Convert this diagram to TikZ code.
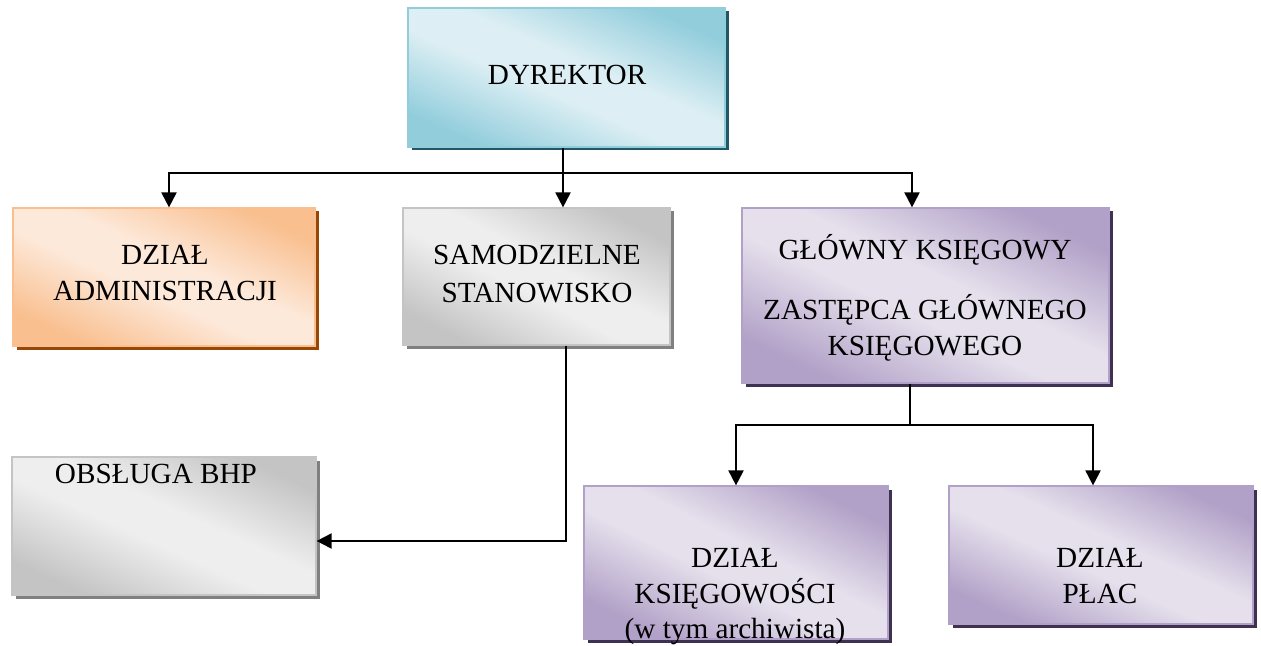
\documentclass[tikz,border=0pt]{standalone}
\usepackage{fontspec}
\setmainfont{Liberation Serif}
\usetikzlibrary{arrows.meta,shadows,calc}
\definecolor{tealD}{HTML}{92CDDC}
\definecolor{tealL}{HTML}{DDEFF4}
\definecolor{tealS}{HTML}{205867}
\definecolor{orD}{HTML}{F9BF8F}
\definecolor{orL}{HTML}{FDE9DA}
\definecolor{orS}{HTML}{974806}
\definecolor{grD}{HTML}{C4C4C4}
\definecolor{grL}{HTML}{EEEEEE}
\definecolor{grS}{HTML}{808080}
\definecolor{puD}{HTML}{B1A0C7}
\definecolor{puL}{HTML}{E5E0EC}
\definecolor{puS}{HTML}{3F3151}
\pgfdeclarehorizontalshading{tealsh}{100bp}{color(0bp)=(tealD); color(25bp)=(tealD); color(45bp)=(tealL); color(55bp)=(tealL); color(75bp)=(tealD); color(100bp)=(tealD)}
\pgfdeclarehorizontalshading{orsh}{100bp}{color(0bp)=(orD); color(25bp)=(orD); color(45bp)=(orL); color(55bp)=(orL); color(75bp)=(orD); color(100bp)=(orD)}
\pgfdeclarehorizontalshading{grsh}{100bp}{color(0bp)=(grD); color(25bp)=(grD); color(45bp)=(grL); color(55bp)=(grL); color(75bp)=(grD); color(100bp)=(grD)}
\pgfdeclarehorizontalshading{push}{100bp}{color(0bp)=(puD); color(25bp)=(puD); color(45bp)=(puL); color(55bp)=(puL); color(75bp)=(puD); color(100bp)=(puD)}
\begin{document}
\begin{tikzpicture}[x=0.5pt,y=-0.5pt,
  box/.style n args={4}{draw=#1D, line width=0.6pt, shading=#2, shading angle=#4, inner sep=0pt,
    drop shadow={shadow xshift=1.75pt, shadow yshift=-1.75pt, fill=#3, opacity=1}},
  txt/.style={font=\fontsize{14.6}{17}\selectfont, anchor=base, inner sep=0pt, text=black},
  conn/.style={line width=1pt, draw=black},
  arr/.style={conn, -{Triangle[width=7.5pt,length=7.5pt]}}]
\useasboundingbox (0,0) rectangle (1261,646);
% boxes
\node[box={teal}{tealsh}{tealS}{66.3}, minimum width=158.5pt, minimum height=69.5pt] (dyr) at (566.5,77.5) {};
\node[box={or}{orsh}{orS}{65.4}, minimum width=151pt, minimum height=69pt] (adm) at (164,277) {};
\node[box={gr}{grsh}{grS}{62.8}, minimum width=133.5pt, minimum height=68.5pt] (sam) at (536.5,276.5) {};
\node[box={pu}{push}{puS}{64.5}, minimum width=183.5pt, minimum height=87.5pt] (glo) at (925.5,295.5) {};
\node[box={gr}{grsh}{grS}{65.6}, minimum width=152pt, minimum height=69pt] (bhp) at (164,526) {};
\node[box={pu}{push}{puS}{63.3}, minimum width=152pt, minimum height=76.5pt] (ksi) at (736,562.5) {};
\node[box={pu}{push}{puS}{65.6}, minimum width=152pt, minimum height=69pt] (pla) at (1101,555) {};
% texts
\node[txt] (t1) at (567,85) {DYREKTOR};
\node[txt] (t2) at (165,265) {DZIAŁ};
\node[txt] (t3) at (165,300) {ADMINISTRACJI};
\node[txt] (t4) at (537,265) {SAMODZIELNE};
\node[txt] (t5) at (537,302) {STANOWISKO};
\node[txt] (t6) at (925,260) {GŁÓWNY KSIĘGOWY};
\node[txt] (t7) at (925,320) {ZASTĘPCA GŁÓWNEGO};
\node[txt] (t8) at (925,355) {KSIĘGOWEGO};
\node[txt] (t9) at (156,483) {OBSŁUGA BHP};
\node[txt] (t10) at (735,567) {DZIAŁ};
\node[txt] (t11) at (735,603) {KSIĘGOWOŚCI};
\node[txt] (t12) at (735,638) {(w tym archiwista)};
\node[txt] (t13) at (1100,567) {DZIAŁ};
\node[txt] (t14) at (1100,603) {PŁAC};
% connectors
\coordinate (dyrout) at ([xshift=-1.75pt]dyr.south);
\coordinate (j1) at (563,173);
\draw[conn] (dyrout) -- (j1);
\draw[arr] (j1) -| ([xshift=2.5pt]adm.north);
\draw[arr] (j1) -- (j1 |- sam.north);
\draw[arr] (j1) -| ([xshift=-6.75pt]glo.north);
\coordinate (gloout) at ([xshift=-7.75pt]glo.south);
\coordinate (j2) at (910,425);
\draw[conn] (gloout) -- (j2);
\draw[arr] (j2) -| (ksi.north);
\draw[arr] (j2) -| ([xshift=-4pt]pla.north);
\coordinate (samout) at ([xshift=14.75pt]sam.south);
\draw[arr] (samout) |- ([yshift=-7.5pt]bhp.east);
\end{tikzpicture}
\end{document}
